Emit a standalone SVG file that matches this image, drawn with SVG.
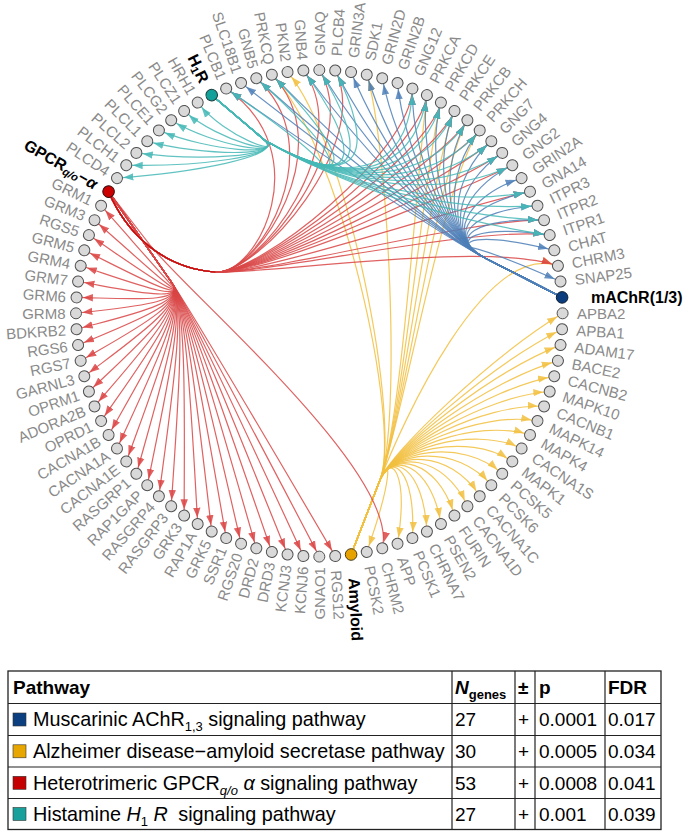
<svg xmlns="http://www.w3.org/2000/svg" width="685" height="831" viewBox="0 0 685 831">
<style>
.nd circle{fill:#d9d9d9;stroke:#505050;stroke-width:1}
.nd text{font-family:"Liberation Sans",Arial,sans-serif;font-size:15px;fill:#8a8a8a;dominant-baseline:central}
.L text{text-anchor:end}
.hl{font-family:"Liberation Sans",Arial,sans-serif;font-size:16px;font-weight:bold;fill:#000}
.e path{fill:none;stroke-width:1.2;stroke-opacity:.85}
.eY path{stroke:#f2c040;marker-end:url(#mY)}
.eR path{stroke:#d94545;marker-end:url(#mR)}
.eB path{stroke:#4d7fb7;marker-end:url(#mB)}
.eT path{stroke:#45b8b6;marker-end:url(#mT)}
.tb text{font-family:"Liberation Sans",Arial,sans-serif;font-size:19px;fill:#000}
.tb .nm{font-size:19.8px}
.tb .h{font-weight:bold}
.tb line{stroke:#222;stroke-width:1.2}
</style>
<defs>
<marker id="mT" viewBox="0 0 17 10" refX="16.4" refY="5" markerWidth="17" markerHeight="10" markerUnits="userSpaceOnUse" orient="auto"><path d="M0,1.3L10,5L0,8.7Z" fill="#45b8b6" fill-opacity=".85"/></marker>
<marker id="mB" viewBox="0 0 17 10" refX="16.4" refY="5" markerWidth="17" markerHeight="10" markerUnits="userSpaceOnUse" orient="auto"><path d="M0,1.3L10,5L0,8.7Z" fill="#4d7fb7" fill-opacity=".85"/></marker>
<marker id="mR" viewBox="0 0 17 10" refX="16.4" refY="5" markerWidth="17" markerHeight="10" markerUnits="userSpaceOnUse" orient="auto"><path d="M0,1.3L10,5L0,8.7Z" fill="#dc4444" fill-opacity=".85"/></marker>
<marker id="mY" viewBox="0 0 17 10" refX="16.4" refY="5" markerWidth="17" markerHeight="10" markerUnits="userSpaceOnUse" orient="auto"><path d="M0,1.3L10,5L0,8.7Z" fill="#f2c040" fill-opacity=".85"/></marker>
</defs>
<rect width="685" height="831" fill="#fff"/>
<g id="connectors" class="e">
<g class="eY">
<path d="M351.1,554.5L380,480C390.9,452 491.3,356.7 562.6,313.3"/>
<path d="M351.1,554.5L380,480C390.9,452 491,364.6 562.1,329.2"/>
<path d="M351.1,554.5L380,480C390.9,452 490.3,372.5 560.5,345.1"/>
<path d="M351.1,554.5L380,480C390.9,452 489,380.4 557.9,360.8"/>
<path d="M351.1,554.5L380,480C390.9,452 487.2,388.1 554.3,376.3"/>
<path d="M351.1,554.5L380,480C390.9,452 484.8,395.8 549.7,391.5"/>
<path d="M351.1,554.5L380,480C390.9,452 482,403.2 544.1,406.4"/>
<path d="M351.1,554.5L380,480C390.9,452 478.8,410.5 537.5,420.9"/>
<path d="M351.1,554.5L380,480C390.9,452 475,417.5 530,435"/>
<path d="M351.1,554.5L380,480C390.9,452 470.8,424.2 521.6,448.5"/>
<path d="M351.1,554.5L380,480C390.9,452 466.2,430.7 512.3,461.4"/>
<path d="M351.1,554.5L380,480C390.9,452 461.1,436.9 502.2,473.7"/>
<path d="M351.1,554.5L380,480C390.9,452 455.7,442.7 491.3,485.3"/>
<path d="M351.1,554.5L380,480C390.9,452 449.9,448.1 479.7,496.2"/>
<path d="M351.1,554.5L380,480C390.9,452 443.7,453.2 467.4,506.3"/>
<path d="M351.1,554.5L380,480C390.9,452 437.2,457.8 454.5,515.6"/>
<path d="M351.1,554.5L380,480C390.9,452 430.5,462 441,524"/>
<path d="M351.1,554.5L380,480C390.9,452 423.5,465.8 426.9,531.5"/>
<path d="M351.1,554.5L380,480C390.9,452 416.2,469 412.4,538.1"/>
<path d="M351.1,554.5L380,480C390.9,452 408.8,471.8 397.5,543.7"/>
<path d="M351.1,554.5L380,480C390.9,452 393.4,476 366.8,551.9"/>
<path d="M351.1,554.5L380,480C401.7,424.1 484,240.4 557.9,265.8"/>
<path d="M351.1,554.5L380,480C401.7,424.1 348.8,143.5 287.5,72.1"/>
<path d="M351.1,554.5L380,480C401.7,424.1 388.4,144.8 366.8,74.7"/>
<path d="M351.1,554.5L380,480C401.7,424.1 418.5,155 426.9,95.1"/>
<path d="M351.1,554.5L380,480C401.7,424.1 438.7,167.6 467.4,120.3"/>
<path d="M351.1,554.5L380,480C401.7,424.1 425.5,158.8 441,102.6"/>
<path d="M351.1,554.5L380,480C401.7,424.1 432.2,163 454.5,111"/>
<path d="M351.1,554.5L380,480C401.7,424.1 444.9,172.7 479.7,130.4"/>
<path d="M351.1,554.5L380,480C401.7,424.1 340.9,144.8 271.8,74.7"/>
</g>
<g class="eR">
<path d="M108.6,191.7L172,283C186.3,303.5 260.1,428 335.2,556.1"/>
<path d="M108.6,191.7L172,283C186.3,303.5 252.2,428.3 319.3,556.6"/>
<path d="M108.6,191.7L172,283C186.3,303.5 244.2,428 303.4,556.1"/>
<path d="M108.6,191.7L172,283C186.3,303.5 236.3,427.3 287.5,554.5"/>
<path d="M108.6,191.7L172,283C186.3,303.5 228.4,426 271.8,551.9"/>
<path d="M108.6,191.7L172,283C186.3,303.5 220.7,424.2 256.3,548.3"/>
<path d="M108.6,191.7L172,283C186.3,303.5 213,421.8 241.1,543.7"/>
<path d="M108.6,191.7L172,283C186.3,303.5 205.6,419 226.2,538.1"/>
<path d="M108.6,191.7L172,283C186.3,303.5 198.3,415.8 211.7,531.5"/>
<path d="M108.6,191.7L172,283C186.3,303.5 191.3,412 197.7,524"/>
<path d="M108.6,191.7L172,283C186.3,303.5 184.6,407.8 184.1,515.6"/>
<path d="M108.6,191.7L172,283C186.3,303.5 178.1,403.2 171.2,506.3"/>
<path d="M108.6,191.7L172,283C186.3,303.5 171.9,398.1 158.9,496.2"/>
<path d="M108.6,191.7L172,283C186.3,303.5 166.1,392.7 147.3,485.3"/>
<path d="M108.6,191.7L172,283C186.3,303.5 160.7,386.9 136.4,473.7"/>
<path d="M108.6,191.7L172,283C186.3,303.5 155.6,380.7 126.3,461.4"/>
<path d="M108.6,191.7L172,283C186.3,303.5 151,374.2 117,448.5"/>
<path d="M108.6,191.7L172,283C186.3,303.5 146.8,367.5 108.6,435"/>
<path d="M108.6,191.7L172,283C186.3,303.5 143,360.5 101.1,420.9"/>
<path d="M108.6,191.7L172,283C186.3,303.5 139.8,353.2 94.5,406.4"/>
<path d="M108.6,191.7L172,283C186.3,303.5 137,345.8 88.9,391.5"/>
<path d="M108.6,191.7L172,283C186.3,303.5 134.6,338.1 84.3,376.3"/>
<path d="M108.6,191.7L172,283C186.3,303.5 132.8,330.4 80.7,360.8"/>
<path d="M108.6,191.7L172,283C186.3,303.5 131.5,322.5 78.1,345.1"/>
<path d="M108.6,191.7L172,283C186.3,303.5 130.8,314.6 76.5,329.2"/>
<path d="M108.6,191.7L172,283C186.3,303.5 130.5,306.7 76,313.3"/>
<path d="M108.6,191.7L172,283C186.3,303.5 130.8,298.7 76.5,297.4"/>
<path d="M108.6,191.7L172,283C186.3,303.5 131.5,290.8 78.1,281.5"/>
<path d="M108.6,191.7L172,283C186.3,303.5 132.8,282.9 80.7,265.8"/>
<path d="M108.6,191.7L172,283C186.3,303.5 134.6,275.2 84.3,250.3"/>
<path d="M108.6,191.7L172,283C186.3,303.5 137,267.5 88.9,235.1"/>
<path d="M108.6,191.7L172,283C186.3,303.5 139.8,260.1 94.5,220.2"/>
<path d="M108.6,191.7L172,283C186.3,303.5 143,252.8 101.1,205.7"/>
<path d="M108.6,191.7L150,245C186.8,292.4 401.1,474.2 382.3,548.3"/>
<path d="M108.6,191.7C125,230 160,268 215,272C259,275.2 484,240.4 557.9,265.8"/>
<path d="M108.6,191.7C125,230 160,268 215,272C259,275.2 364.7,142.5 319.3,70"/>
<path d="M108.6,191.7C125,230 160,268 215,272C259,275.2 470,203.3 530,191.7"/>
<path d="M108.6,191.7C125,230 160,268 215,272C259,275.2 318.1,151.8 226.2,88.5"/>
<path d="M108.6,191.7C125,230 160,268 215,272C259,275.2 372.6,142.8 335.2,70.5"/>
<path d="M108.6,191.7C125,230 160,268 215,272C259,275.2 356.7,142.8 303.4,70.5"/>
<path d="M108.6,191.7C125,230 160,268 215,272C259,275.2 333.2,146.6 256.3,78.3"/>
<path d="M108.6,191.7C125,230 160,268 215,272C259,275.2 461.2,190.1 512.3,165.2"/>
<path d="M108.6,191.7C125,230 160,268 215,272C259,275.2 456.1,183.9 502.2,152.9"/>
<path d="M108.6,191.7C125,230 160,268 215,272C259,275.2 450.7,178.1 491.3,141.3"/>
<path d="M108.6,191.7C125,230 160,268 215,272C259,275.2 411.2,151.8 412.4,88.5"/>
<path d="M108.6,191.7C125,230 160,268 215,272C259,275.2 418.5,155 426.9,95.1"/>
<path d="M108.6,191.7C125,230 160,268 215,272C259,275.2 438.7,167.6 467.4,120.3"/>
<path d="M108.6,191.7C125,230 160,268 215,272C259,275.2 425.5,158.8 441,102.6"/>
<path d="M108.6,191.7C125,230 160,268 215,272C259,275.2 432.2,163 454.5,111"/>
<path d="M108.6,191.7C125,230 160,268 215,272C259,275.2 444.9,172.7 479.7,130.4"/>
<path d="M108.6,191.7C125,230 160,268 215,272C259,275.2 340.9,144.8 271.8,74.7"/>
<path d="M108.6,191.7C125,230 160,268 215,272C259,275.2 479.8,225 549.7,235.1"/>
<path d="M108.6,191.7C125,230 160,268 215,272C259,275.2 477,217.6 544.1,220.2"/>
</g>
<g class="eB">
<path d="M562.1,297.4L485,258C445,237.5 482.2,232.7 554.3,250.3"/>
<path d="M562.1,297.4L485,258C445,237.5 485.3,248.3 560.5,281.5"/>
<path d="M562.1,297.4L485,258C445,237.5 325.5,149 241.1,82.9"/>
<path d="M562.1,297.4L485,258C445,237.5 364.7,142.5 319.3,70"/>
<path d="M562.1,297.4L485,258C445,237.5 470,203.3 530,191.7"/>
<path d="M562.1,297.4L485,258C445,237.5 318.1,151.8 226.2,88.5"/>
<path d="M562.1,297.4L485,258C445,237.5 372.6,142.8 335.2,70.5"/>
<path d="M562.1,297.4L485,258C445,237.5 479.8,225 549.7,235.1"/>
<path d="M562.1,297.4L485,258C445,237.5 477,217.6 544.1,220.2"/>
<path d="M562.1,297.4L485,258C445,237.5 473.8,210.3 537.5,205.7"/>
<path d="M562.1,297.4L485,258C445,237.5 356.7,142.8 303.4,70.5"/>
<path d="M562.1,297.4L485,258C445,237.5 333.2,146.6 256.3,78.3"/>
<path d="M562.1,297.4L485,258C445,237.5 461.2,190.1 512.3,165.2"/>
<path d="M562.1,297.4L485,258C445,237.5 456.1,183.9 502.2,152.9"/>
<path d="M562.1,297.4L485,258C445,237.5 450.7,178.1 491.3,141.3"/>
<path d="M562.1,297.4L485,258C445,237.5 411.2,151.8 412.4,88.5"/>
<path d="M562.1,297.4L485,258C445,237.5 465.8,196.6 521.6,178.1"/>
<path d="M562.1,297.4L485,258C445,237.5 403.8,149 397.5,82.9"/>
<path d="M562.1,297.4L485,258C445,237.5 396.1,146.6 382.3,78.3"/>
<path d="M562.1,297.4L485,258C445,237.5 380.5,143.5 351.1,72.1"/>
<path d="M562.1,297.4L485,258C445,237.5 388.4,144.8 366.8,74.7"/>
<path d="M562.1,297.4L485,258C445,237.5 418.5,155 426.9,95.1"/>
<path d="M562.1,297.4L485,258C445,237.5 438.7,167.6 467.4,120.3"/>
<path d="M562.1,297.4L485,258C445,237.5 425.5,158.8 441,102.6"/>
<path d="M562.1,297.4L485,258C445,237.5 432.2,163 454.5,111"/>
<path d="M562.1,297.4L485,258C445,237.5 444.9,172.7 479.7,130.4"/>
<path d="M562.1,297.4L485,258C445,237.5 340.9,144.8 271.8,74.7"/>
</g>
<g class="eT">
<path d="M211.7,95.1L265,140.5C284,156.7 226.4,138.6 197.7,102.6"/>
<path d="M211.7,95.1L265,140.5C284,156.7 220.4,142.4 184.1,111"/>
<path d="M211.7,95.1L265,140.5C284,156.7 214.5,146.5 171.2,120.3"/>
<path d="M211.7,95.1L265,140.5C284,156.7 209,151.1 158.9,130.4"/>
<path d="M211.7,95.1L265,140.5C284,156.7 203.8,156 147.3,141.3"/>
<path d="M211.7,95.1L265,140.5C284,156.7 198.9,161.2 136.4,152.9"/>
<path d="M211.7,95.1L265,140.5C284,156.7 194.3,166.7 126.3,165.2"/>
<path d="M211.7,95.1L265,140.5C284,156.7 190.2,172.6 117,178.1"/>
<path d="M211.7,95.1L265,140.5C370,200 318.1,151.8 226.2,88.5"/>
<path d="M211.7,95.1L265,140.5C370,200 372.6,142.8 335.2,70.5"/>
<path d="M211.7,95.1L265,140.5C370,200 364.7,142.5 319.3,70"/>
<path d="M211.7,95.1L265,140.5C370,200 470,203.3 530,191.7"/>
<path d="M211.7,95.1L265,140.5C370,200 479.8,225 549.7,235.1"/>
<path d="M211.7,95.1L265,140.5C370,200 477,217.6 544.1,220.2"/>
<path d="M211.7,95.1L265,140.5C370,200 473.8,210.3 537.5,205.7"/>
<path d="M211.7,95.1L265,140.5C370,200 418.5,155 426.9,95.1"/>
<path d="M211.7,95.1L265,140.5C370,200 438.7,167.6 467.4,120.3"/>
<path d="M211.7,95.1L265,140.5C370,200 425.5,158.8 441,102.6"/>
<path d="M211.7,95.1L265,140.5C370,200 432.2,163 454.5,111"/>
<path d="M211.7,95.1L265,140.5C370,200 444.9,172.7 479.7,130.4"/>
<path d="M211.7,95.1L265,140.5C370,200 340.9,144.8 271.8,74.7"/>
<path d="M211.7,95.1L265,140.5C370,200 356.7,142.8 303.4,70.5"/>
<path d="M211.7,95.1L265,140.5C370,200 333.2,146.6 256.3,78.3"/>
<path d="M211.7,95.1L265,140.5C370,200 461.2,190.1 512.3,165.2"/>
<path d="M211.7,95.1L265,140.5C370,200 456.1,183.9 502.2,152.9"/>
<path d="M211.7,95.1L265,140.5C370,200 450.7,178.1 491.3,141.3"/>
<path d="M211.7,95.1L265,140.5C370,200 411.2,151.8 412.4,88.5"/>
</g>
<g id="trunks">
<path d="M351.1,554.5L383.3,481.3L385.4,466L376.7,478.7Z" fill="#e5a100"/>
<path d="M108.6,191.7L168.7,285.3L180.6,295.3L175.3,280.7Z" fill="#c00000"/>
<path d="M108.6,191.7C125,230 160,268 215,272" fill="none" stroke="#c00000" stroke-width="2.6" stroke-linecap="round"/>
<path d="M562.1,297.4L487.3,253.6L458,244.4L482.7,262.5Z" fill="#0b3d7e"/>
<path d="M211.7,95.1L262.7,143.2L276.4,150.2L267.3,137.8Z" fill="#12a09a"/>
</g>
</g>
<g id="nodes">
<g id="n-HRH1" class="nd L" transform="rotate(60 319.3 313.3)"><circle cx="76" cy="313.3" r="5.5"/><text x="65.5" y="313.3">HRH1</text></g>
<g id="n-PLCB1" class="nd L" transform="rotate(67.5 319.3 313.3)"><circle cx="76" cy="313.3" r="5.5"/><text x="65.5" y="313.3">PLCB1</text></g>
<g id="n-SLC18B1" class="nd L" transform="rotate(71.25 319.3 313.3)"><circle cx="76" cy="313.3" r="5.5"/><text x="65.5" y="313.3">SLC18B1</text></g>
<g id="n-GNB5" class="nd L" transform="rotate(75 319.3 313.3)"><circle cx="76" cy="313.3" r="5.5"/><text x="65.5" y="313.3">GNB5</text></g>
<g id="n-PRKCQ" class="nd L" transform="rotate(78.75 319.3 313.3)"><circle cx="76" cy="313.3" r="5.5"/><text x="65.5" y="313.3">PRKCQ</text></g>
<g id="n-PKN2" class="nd L" transform="rotate(82.5 319.3 313.3)"><circle cx="76" cy="313.3" r="5.5"/><text x="65.5" y="313.3">PKN2</text></g>
<g id="n-GNB4" class="nd L" transform="rotate(86.25 319.3 313.3)"><circle cx="76" cy="313.3" r="5.5"/><text x="65.5" y="313.3">GNB4</text></g>
<g id="n-GNAQ" class="nd" transform="rotate(-90 319.3 313.3)"><circle cx="562.6" cy="313.3" r="5.5"/><text x="577" y="313.3">GNAQ</text></g>
<g id="n-PLCB4" class="nd" transform="rotate(-86.25 319.3 313.3)"><circle cx="562.6" cy="313.3" r="5.5"/><text x="577" y="313.3">PLCB4</text></g>
<g id="n-GRIN3A" class="nd" transform="rotate(-82.5 319.3 313.3)"><circle cx="562.6" cy="313.3" r="5.5"/><text x="577" y="313.3">GRIN3A</text></g>
<g id="n-SDK1" class="nd" transform="rotate(-78.75 319.3 313.3)"><circle cx="562.6" cy="313.3" r="5.5"/><text x="577" y="313.3">SDK1</text></g>
<g id="n-GRIN2D" class="nd" transform="rotate(-75 319.3 313.3)"><circle cx="562.6" cy="313.3" r="5.5"/><text x="577" y="313.3">GRIN2D</text></g>
<g id="n-GRIN2B" class="nd" transform="rotate(-71.25 319.3 313.3)"><circle cx="562.6" cy="313.3" r="5.5"/><text x="577" y="313.3">GRIN2B</text></g>
<g id="n-GNG12" class="nd" transform="rotate(-67.5 319.3 313.3)"><circle cx="562.6" cy="313.3" r="5.5"/><text x="577" y="313.3">GNG12</text></g>
<g id="n-PRKCA" class="nd" transform="rotate(-63.75 319.3 313.3)"><circle cx="562.6" cy="313.3" r="5.5"/><text x="577" y="313.3">PRKCA</text></g>
<g id="n-PRKCD" class="nd" transform="rotate(-60 319.3 313.3)"><circle cx="562.6" cy="313.3" r="5.5"/><text x="577" y="313.3">PRKCD</text></g>
<g id="n-PRKCE" class="nd" transform="rotate(-56.25 319.3 313.3)"><circle cx="562.6" cy="313.3" r="5.5"/><text x="577" y="313.3">PRKCE</text></g>
<g id="n-PRKCB" class="nd" transform="rotate(-52.5 319.3 313.3)"><circle cx="562.6" cy="313.3" r="5.5"/><text x="577" y="313.3">PRKCB</text></g>
<g id="n-PRKCH" class="nd" transform="rotate(-48.75 319.3 313.3)"><circle cx="562.6" cy="313.3" r="5.5"/><text x="577" y="313.3">PRKCH</text></g>
<g id="n-GNG7" class="nd" transform="rotate(-45 319.3 313.3)"><circle cx="562.6" cy="313.3" r="5.5"/><text x="577" y="313.3">GNG7</text></g>
<g id="n-GNG4" class="nd" transform="rotate(-41.25 319.3 313.3)"><circle cx="562.6" cy="313.3" r="5.5"/><text x="577" y="313.3">GNG4</text></g>
<g id="n-GNG2" class="nd" transform="rotate(-37.5 319.3 313.3)"><circle cx="562.6" cy="313.3" r="5.5"/><text x="577" y="313.3">GNG2</text></g>
<g id="n-GRIN2A" class="nd" transform="rotate(-33.75 319.3 313.3)"><circle cx="562.6" cy="313.3" r="5.5"/><text x="577" y="313.3">GRIN2A</text></g>
<g id="n-GNA14" class="nd" transform="rotate(-30 319.3 313.3)"><circle cx="562.6" cy="313.3" r="5.5"/><text x="577" y="313.3">GNA14</text></g>
<g id="n-ITPR3" class="nd" transform="rotate(-26.25 319.3 313.3)"><circle cx="562.6" cy="313.3" r="5.5"/><text x="577" y="313.3">ITPR3</text></g>
<g id="n-ITPR2" class="nd" transform="rotate(-22.5 319.3 313.3)"><circle cx="562.6" cy="313.3" r="5.5"/><text x="577" y="313.3">ITPR2</text></g>
<g id="n-ITPR1" class="nd" transform="rotate(-18.75 319.3 313.3)"><circle cx="562.6" cy="313.3" r="5.5"/><text x="577" y="313.3">ITPR1</text></g>
<g id="n-CHAT" class="nd" transform="rotate(-15 319.3 313.3)"><circle cx="562.6" cy="313.3" r="5.5"/><text x="577" y="313.3">CHAT</text></g>
<g id="n-CHRM3" class="nd" transform="rotate(-11.25 319.3 313.3)"><circle cx="562.6" cy="313.3" r="5.5"/><text x="577" y="313.3">CHRM3</text></g>
<g id="n-SNAP25" class="nd" transform="rotate(-7.5 319.3 313.3)"><circle cx="562.6" cy="313.3" r="5.5"/><text x="577" y="313.3">SNAP25</text></g>
<g id="n-APBA2" class="nd" transform="rotate(0 319.3 313.3)"><circle cx="562.6" cy="313.3" r="5.5"/><text x="577" y="313.3">APBA2</text></g>
<g id="n-APBA1" class="nd" transform="rotate(3.75 319.3 313.3)"><circle cx="562.6" cy="313.3" r="5.5"/><text x="577" y="313.3">APBA1</text></g>
<g id="n-ADAM17" class="nd" transform="rotate(7.5 319.3 313.3)"><circle cx="562.6" cy="313.3" r="5.5"/><text x="577" y="313.3">ADAM17</text></g>
<g id="n-BACE2" class="nd" transform="rotate(11.25 319.3 313.3)"><circle cx="562.6" cy="313.3" r="5.5"/><text x="577" y="313.3">BACE2</text></g>
<g id="n-CACNB2" class="nd" transform="rotate(15 319.3 313.3)"><circle cx="562.6" cy="313.3" r="5.5"/><text x="577" y="313.3">CACNB2</text></g>
<g id="n-MAPK10" class="nd" transform="rotate(18.75 319.3 313.3)"><circle cx="562.6" cy="313.3" r="5.5"/><text x="577" y="313.3">MAPK10</text></g>
<g id="n-CACNB1" class="nd" transform="rotate(22.5 319.3 313.3)"><circle cx="562.6" cy="313.3" r="5.5"/><text x="577" y="313.3">CACNB1</text></g>
<g id="n-MAPK14" class="nd" transform="rotate(26.25 319.3 313.3)"><circle cx="562.6" cy="313.3" r="5.5"/><text x="577" y="313.3">MAPK14</text></g>
<g id="n-MAPK4" class="nd" transform="rotate(30 319.3 313.3)"><circle cx="562.6" cy="313.3" r="5.5"/><text x="577" y="313.3">MAPK4</text></g>
<g id="n-CACNA1S" class="nd" transform="rotate(33.75 319.3 313.3)"><circle cx="562.6" cy="313.3" r="5.5"/><text x="577" y="313.3">CACNA1S</text></g>
<g id="n-MAPK1" class="nd" transform="rotate(37.5 319.3 313.3)"><circle cx="562.6" cy="313.3" r="5.5"/><text x="577" y="313.3">MAPK1</text></g>
<g id="n-PCSK5" class="nd" transform="rotate(41.25 319.3 313.3)"><circle cx="562.6" cy="313.3" r="5.5"/><text x="577" y="313.3">PCSK5</text></g>
<g id="n-PCSK6" class="nd" transform="rotate(45 319.3 313.3)"><circle cx="562.6" cy="313.3" r="5.5"/><text x="577" y="313.3">PCSK6</text></g>
<g id="n-CACNA1C" class="nd" transform="rotate(48.75 319.3 313.3)"><circle cx="562.6" cy="313.3" r="5.5"/><text x="577" y="313.3">CACNA1C</text></g>
<g id="n-CACNA1D" class="nd" transform="rotate(52.5 319.3 313.3)"><circle cx="562.6" cy="313.3" r="5.5"/><text x="577" y="313.3">CACNA1D</text></g>
<g id="n-FURIN" class="nd" transform="rotate(56.25 319.3 313.3)"><circle cx="562.6" cy="313.3" r="5.5"/><text x="577" y="313.3">FURIN</text></g>
<g id="n-PSEN2" class="nd" transform="rotate(60 319.3 313.3)"><circle cx="562.6" cy="313.3" r="5.5"/><text x="577" y="313.3">PSEN2</text></g>
<g id="n-CHRNA7" class="nd" transform="rotate(63.75 319.3 313.3)"><circle cx="562.6" cy="313.3" r="5.5"/><text x="577" y="313.3">CHRNA7</text></g>
<g id="n-PCSK1" class="nd" transform="rotate(67.5 319.3 313.3)"><circle cx="562.6" cy="313.3" r="5.5"/><text x="577" y="313.3">PCSK1</text></g>
<g id="n-APP" class="nd" transform="rotate(71.25 319.3 313.3)"><circle cx="562.6" cy="313.3" r="5.5"/><text x="577" y="313.3">APP</text></g>
<g id="n-CHRM2" class="nd" transform="rotate(75 319.3 313.3)"><circle cx="562.6" cy="313.3" r="5.5"/><text x="577" y="313.3">CHRM2</text></g>
<g id="n-PCSK2" class="nd" transform="rotate(78.75 319.3 313.3)"><circle cx="562.6" cy="313.3" r="5.5"/><text x="577" y="313.3">PCSK2</text></g>
<g id="n-RGS12" class="nd" transform="rotate(86.25 319.3 313.3)"><circle cx="562.6" cy="313.3" r="5.5"/><text x="577" y="313.3">RGS12</text></g>
<g id="n-GNAO1" class="nd L" transform="rotate(-90 319.3 313.3)"><circle cx="76" cy="313.3" r="5.5"/><text x="65.5" y="313.3">GNAO1</text></g>
<g id="n-KCNJ6" class="nd L" transform="rotate(-86.25 319.3 313.3)"><circle cx="76" cy="313.3" r="5.5"/><text x="65.5" y="313.3">KCNJ6</text></g>
<g id="n-KCNJ3" class="nd L" transform="rotate(-82.5 319.3 313.3)"><circle cx="76" cy="313.3" r="5.5"/><text x="65.5" y="313.3">KCNJ3</text></g>
<g id="n-DRD3" class="nd L" transform="rotate(-78.75 319.3 313.3)"><circle cx="76" cy="313.3" r="5.5"/><text x="65.5" y="313.3">DRD3</text></g>
<g id="n-DRD2" class="nd L" transform="rotate(-75 319.3 313.3)"><circle cx="76" cy="313.3" r="5.5"/><text x="65.5" y="313.3">DRD2</text></g>
<g id="n-RGS20" class="nd L" transform="rotate(-71.25 319.3 313.3)"><circle cx="76" cy="313.3" r="5.5"/><text x="65.5" y="313.3">RGS20</text></g>
<g id="n-SSR1" class="nd L" transform="rotate(-67.5 319.3 313.3)"><circle cx="76" cy="313.3" r="5.5"/><text x="65.5" y="313.3">SSR1</text></g>
<g id="n-GRK5" class="nd L" transform="rotate(-63.75 319.3 313.3)"><circle cx="76" cy="313.3" r="5.5"/><text x="65.5" y="313.3">GRK5</text></g>
<g id="n-RAP1A" class="nd L" transform="rotate(-60 319.3 313.3)"><circle cx="76" cy="313.3" r="5.5"/><text x="65.5" y="313.3">RAP1A</text></g>
<g id="n-GRK3" class="nd L" transform="rotate(-56.25 319.3 313.3)"><circle cx="76" cy="313.3" r="5.5"/><text x="65.5" y="313.3">GRK3</text></g>
<g id="n-RASGRP3" class="nd L" transform="rotate(-52.5 319.3 313.3)"><circle cx="76" cy="313.3" r="5.5"/><text x="65.5" y="313.3">RASGRP3</text></g>
<g id="n-RASGRP4" class="nd L" transform="rotate(-48.75 319.3 313.3)"><circle cx="76" cy="313.3" r="5.5"/><text x="65.5" y="313.3">RASGRP4</text></g>
<g id="n-RAP1GAP" class="nd L" transform="rotate(-45 319.3 313.3)"><circle cx="76" cy="313.3" r="5.5"/><text x="65.5" y="313.3">RAP1GAP</text></g>
<g id="n-RASGRP1" class="nd L" transform="rotate(-41.25 319.3 313.3)"><circle cx="76" cy="313.3" r="5.5"/><text x="65.5" y="313.3">RASGRP1</text></g>
<g id="n-CACNA1E" class="nd L" transform="rotate(-37.5 319.3 313.3)"><circle cx="76" cy="313.3" r="5.5"/><text x="65.5" y="313.3">CACNA1E</text></g>
<g id="n-CACNA1A" class="nd L" transform="rotate(-33.75 319.3 313.3)"><circle cx="76" cy="313.3" r="5.5"/><text x="65.5" y="313.3">CACNA1A</text></g>
<g id="n-CACNA1B" class="nd L" transform="rotate(-30 319.3 313.3)"><circle cx="76" cy="313.3" r="5.5"/><text x="65.5" y="313.3">CACNA1B</text></g>
<g id="n-OPRD1" class="nd L" transform="rotate(-26.25 319.3 313.3)"><circle cx="76" cy="313.3" r="5.5"/><text x="65.5" y="313.3">OPRD1</text></g>
<g id="n-ADORA2B" class="nd L" transform="rotate(-22.5 319.3 313.3)"><circle cx="76" cy="313.3" r="5.5"/><text x="65.5" y="313.3">ADORA2B</text></g>
<g id="n-OPRM1" class="nd L" transform="rotate(-18.75 319.3 313.3)"><circle cx="76" cy="313.3" r="5.5"/><text x="65.5" y="313.3">OPRM1</text></g>
<g id="n-GARNL3" class="nd L" transform="rotate(-15 319.3 313.3)"><circle cx="76" cy="313.3" r="5.5"/><text x="65.5" y="313.3">GARNL3</text></g>
<g id="n-RGS7" class="nd L" transform="rotate(-11.25 319.3 313.3)"><circle cx="76" cy="313.3" r="5.5"/><text x="65.5" y="313.3">RGS7</text></g>
<g id="n-RGS6" class="nd L" transform="rotate(-7.5 319.3 313.3)"><circle cx="76" cy="313.3" r="5.5"/><text x="65.5" y="313.3">RGS6</text></g>
<g id="n-BDKRB2" class="nd L" transform="rotate(-3.75 319.3 313.3)"><circle cx="76" cy="313.3" r="5.5"/><text x="65.5" y="313.3">BDKRB2</text></g>
<g id="n-GRM8" class="nd L" transform="rotate(0 319.3 313.3)"><circle cx="76" cy="313.3" r="5.5"/><text x="65.5" y="313.3">GRM8</text></g>
<g id="n-GRM6" class="nd L" transform="rotate(3.75 319.3 313.3)"><circle cx="76" cy="313.3" r="5.5"/><text x="65.5" y="313.3">GRM6</text></g>
<g id="n-GRM7" class="nd L" transform="rotate(7.5 319.3 313.3)"><circle cx="76" cy="313.3" r="5.5"/><text x="65.5" y="313.3">GRM7</text></g>
<g id="n-GRM4" class="nd L" transform="rotate(11.25 319.3 313.3)"><circle cx="76" cy="313.3" r="5.5"/><text x="65.5" y="313.3">GRM4</text></g>
<g id="n-GRM5" class="nd L" transform="rotate(15 319.3 313.3)"><circle cx="76" cy="313.3" r="5.5"/><text x="65.5" y="313.3">GRM5</text></g>
<g id="n-RGS5" class="nd L" transform="rotate(18.75 319.3 313.3)"><circle cx="76" cy="313.3" r="5.5"/><text x="65.5" y="313.3">RGS5</text></g>
<g id="n-GRM3" class="nd L" transform="rotate(22.5 319.3 313.3)"><circle cx="76" cy="313.3" r="5.5"/><text x="65.5" y="313.3">GRM3</text></g>
<g id="n-GRM1" class="nd L" transform="rotate(26.25 319.3 313.3)"><circle cx="76" cy="313.3" r="5.5"/><text x="65.5" y="313.3">GRM1</text></g>
<g id="n-PLCD4" class="nd L" transform="rotate(33.75 319.3 313.3)"><circle cx="76" cy="313.3" r="5.5"/><text x="65.5" y="313.3">PLCD4</text></g>
<g id="n-PLCH1" class="nd L" transform="rotate(37.5 319.3 313.3)"><circle cx="76" cy="313.3" r="5.5"/><text x="65.5" y="313.3">PLCH1</text></g>
<g id="n-PLCL2" class="nd L" transform="rotate(41.25 319.3 313.3)"><circle cx="76" cy="313.3" r="5.5"/><text x="65.5" y="313.3">PLCL2</text></g>
<g id="n-PLCL1" class="nd L" transform="rotate(45 319.3 313.3)"><circle cx="76" cy="313.3" r="5.5"/><text x="65.5" y="313.3">PLCL1</text></g>
<g id="n-PLCE1" class="nd L" transform="rotate(48.75 319.3 313.3)"><circle cx="76" cy="313.3" r="5.5"/><text x="65.5" y="313.3">PLCE1</text></g>
<g id="n-PLCG2" class="nd L" transform="rotate(52.5 319.3 313.3)"><circle cx="76" cy="313.3" r="5.5"/><text x="65.5" y="313.3">PLCG2</text></g>
<g id="n-PLCZ1" class="nd L" transform="rotate(56.25 319.3 313.3)"><circle cx="76" cy="313.3" r="5.5"/><text x="65.5" y="313.3">PLCZ1</text></g>
<g id="hub-H1R" transform="rotate(63.75 319.3 313.3)"><circle cx="76" cy="313.3" r="5.8" fill="#12a09a" stroke="#1d3d3b" stroke-width="1"/><text class="hl" x="61" y="313.3" text-anchor="end" dominant-baseline="central">H<tspan font-size="11" dy="4">1</tspan><tspan dy="-4">R</tspan></text></g>
<g id="hub-GPCR" transform="rotate(30 319.3 313.3)"><circle cx="76" cy="313.3" r="5.8" fill="#cc0000" stroke="#3a1010" stroke-width="1"/><text class="hl" x="62" y="313.3" text-anchor="end" dominant-baseline="central">GPCR<tspan font-size="11" font-style="italic" dy="4">q/o</tspan><tspan dy="-4">−</tspan><tspan font-style="italic">α</tspan></text></g>
<g id="hub-mAChR"><circle cx="562.1" cy="297.4" r="5.8" fill="#0b3d7e" stroke="#101e33" stroke-width="1"/><text class="hl" x="591" y="297.4" dominant-baseline="central">mAChR(1/3)</text></g>
<g id="hub-Amyloid"><circle cx="351.1" cy="554.5" r="5.8" fill="#e6a200" stroke="#4a3a10" stroke-width="1"/><text class="hl" x="354" y="578" transform="rotate(87 354 578)" dominant-baseline="central">Amyloid</text></g>
</g>
<g id="table" class="tb">
<rect x="8" y="671" width="653" height="158.5" fill="#fff" stroke="#222" stroke-width="1.3"/>
<line x1="8" y1="703.5" x2="661" y2="703.5"/>
<line x1="8" y1="735.5" x2="661" y2="735.5"/>
<line x1="8" y1="767" x2="661" y2="767"/>
<line x1="8" y1="798.5" x2="661" y2="798.5"/>
<line x1="452" y1="671" x2="452" y2="829.5"/>
<line x1="515" y1="671" x2="515" y2="829.5"/>
<line x1="535" y1="671" x2="535" y2="829.5"/>
<line x1="605" y1="671" x2="605" y2="829.5"/>
<text class="h" x="13" y="694">Pathway</text>
<text class="h" x="455" y="694"><tspan font-style="italic">N</tspan><tspan font-size="13" dy="5">genes</tspan></text>
<text class="h" x="518" y="694">±</text>
<text class="h" x="539" y="694">p</text>
<text class="h" x="608" y="694">FDR</text>
<rect x="13" y="713" width="13" height="13" fill="#0c3f80" stroke="#333" stroke-width=".6"/>
<rect x="13" y="744.8" width="13" height="13" fill="#e8a600" stroke="#333" stroke-width=".6"/>
<rect x="13" y="776.3" width="13" height="13" fill="#c40000" stroke="#333" stroke-width=".6"/>
<rect x="13" y="807.5" width="13" height="13" fill="#17a09c" stroke="#333" stroke-width=".6"/>
<text class="nm" x="33" y="726">Muscarinic AChR<tspan font-size="13" dy="5">1,3</tspan><tspan dy="-5"> signaling pathway</tspan></text>
<text class="nm" x="33" y="758">Alzheimer disease−amyloid secretase pathway</text>
<text class="nm" x="33" y="789.5">Heterotrimeric GPCR<tspan font-size="13" font-style="italic" dy="5">q/o</tspan><tspan dy="-5"> </tspan><tspan font-style="italic">α</tspan> signaling pathway</text>
<text class="nm" x="33" y="820.5">Histamine <tspan font-style="italic">H</tspan><tspan font-size="13" dy="5">1</tspan><tspan dy="-5"> </tspan><tspan font-style="italic">R</tspan><tspan dx="5"> signaling pathway</tspan></text>
<text x="455" y="726">27</text><text x="518" y="726">+</text><text x="539" y="726">0.0001</text><text x="608" y="726">0.017</text>
<text x="455" y="758">30</text><text x="518" y="758">+</text><text x="539" y="758">0.0005</text><text x="608" y="758">0.034</text>
<text x="455" y="789.5">53</text><text x="518" y="789.5">+</text><text x="539" y="789.5">0.0008</text><text x="608" y="789.5">0.041</text>
<text x="455" y="820.5">27</text><text x="518" y="820.5">+</text><text x="539" y="820.5">0.001</text><text x="608" y="820.5">0.039</text>
</g>
</svg>
